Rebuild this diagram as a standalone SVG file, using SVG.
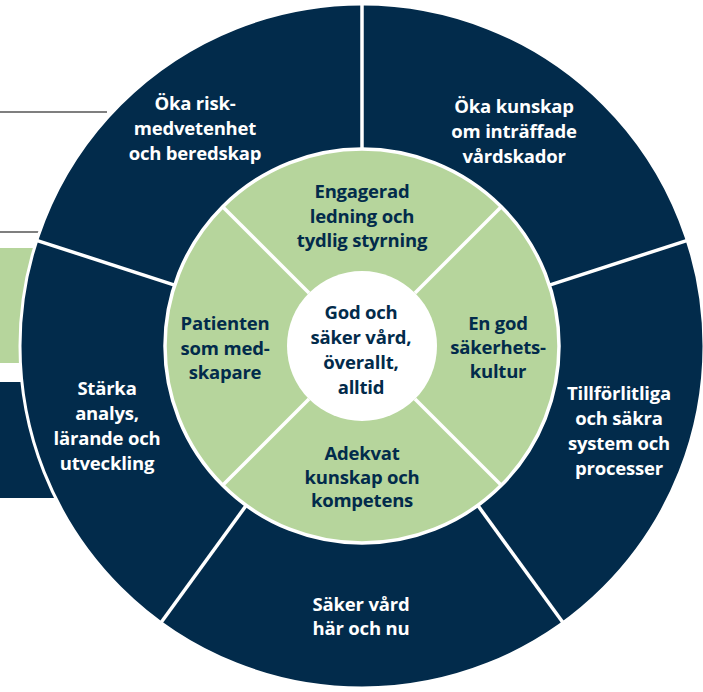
<svg xmlns="http://www.w3.org/2000/svg" width="703" height="692" viewBox="0 0 703 692">
<style>
.navy{fill:#022b4b}
.green{fill:#b6d59c}
.t{font-family:"Open Sans","Liberation Sans",sans-serif;font-weight:700;font-size:18.5px;text-anchor:middle;letter-spacing:-0.2px}
.w{fill:#ffffff}
.d{fill:#022b4b}
.div{stroke:#ffffff;stroke-width:3.5;fill:none}
.deco{stroke:#555555;stroke-width:1.5}
</style>
<rect width="703" height="692" fill="#ffffff"/>
<g id="decor">
<line class="deco" x1="0" y1="112" x2="107" y2="112"/>
<line class="deco" x1="0" y1="232" x2="40" y2="232"/>
<rect class="green" x="0" y="248" width="60" height="115"/>
<rect class="navy" x="0" y="382" width="80" height="116"/>
</g>
<g id="outer-ring">
<circle cx="362" cy="346" r="342" class="navy" stroke="#ffffff" stroke-width="3"/>
</g>
<g id="inner-ring">
<circle cx="362" cy="346" r="197" class="green" stroke="#ffffff" stroke-width="3.5"/>
</g>
<g id="connectors">
<line class="div" x1="362" y1="149" x2="362" y2="2"/>
<line class="div" x1="549.4" y1="285.1" x2="689" y2="239.8"/>
<line class="div" x1="477.8" y1="505.4" x2="564" y2="624"/>
<line class="div" x1="246.2" y1="505.4" x2="160" y2="624"/>
<line class="div" x1="174.6" y1="285.1" x2="35" y2="239.8"/>
<line class="div" x1="309" y1="293" x2="222.7" y2="206.7"/>
<line class="div" x1="415" y1="293" x2="501.3" y2="206.7"/>
<line class="div" x1="415" y1="399" x2="501.3" y2="485.3"/>
<line class="div" x1="309" y1="399" x2="222.7" y2="485.3"/>
</g>
<g id="center">
<circle cx="362" cy="346" r="75" fill="#ffffff"/>
<text class="t d"><tspan x="361" y="319">God och</tspan><tspan x="361" y="344">säker vård,</tspan><tspan x="361" y="369">överallt,</tspan><tspan x="361" y="394">alltid</tspan></text>
</g>
<g id="oka-risk">
<text class="t w"><tspan x="195" y="110">Öka risk-</tspan><tspan x="195" y="135">medvetenhet</tspan><tspan x="195" y="160">och beredskap</tspan></text>
</g>
<g id="oka-kunskap">
<text class="t w"><tspan x="514" y="113">Öka kunskap</tspan><tspan x="514" y="138">om inträffade</tspan><tspan x="514" y="163">vårdskador</tspan></text>
</g>
<g id="tillforlitliga">
<text class="t w"><tspan x="619" y="400">Tillförlitliga</tspan><tspan x="619" y="425">och säkra</tspan><tspan x="619" y="450">system och</tspan><tspan x="619" y="475">processer</tspan></text>
</g>
<g id="saker-vard">
<text class="t w"><tspan x="361" y="611">Säker vård</tspan><tspan x="361" y="635">här och nu</tspan></text>
</g>
<g id="starka">
<text class="t w"><tspan x="107" y="395">Stärka</tspan><tspan x="107" y="420">analys,</tspan><tspan x="107" y="445">lärande och</tspan><tspan x="107" y="470">utveckling</tspan></text>
</g>
<g id="engagerad">
<text class="t d"><tspan x="362" y="198">Engagerad</tspan><tspan x="362" y="223">ledning och</tspan><tspan x="362" y="247">tydlig styrning</tspan></text>
</g>
<g id="patienten">
<text class="t d"><tspan x="225" y="330">Patienten</tspan><tspan x="225" y="355">som med-</tspan><tspan x="225" y="379">skapare</tspan></text>
</g>
<g id="en-god">
<text class="t d"><tspan x="498" y="330">En god</tspan><tspan x="498" y="354">säkerhets-</tspan><tspan x="498" y="378">kultur</tspan></text>
</g>
<g id="adekvat">
<text class="t d"><tspan x="362" y="460">Adekvat</tspan><tspan x="362" y="484">kunskap och</tspan><tspan x="362" y="507">kompetens</tspan></text>
</g>
</svg>
